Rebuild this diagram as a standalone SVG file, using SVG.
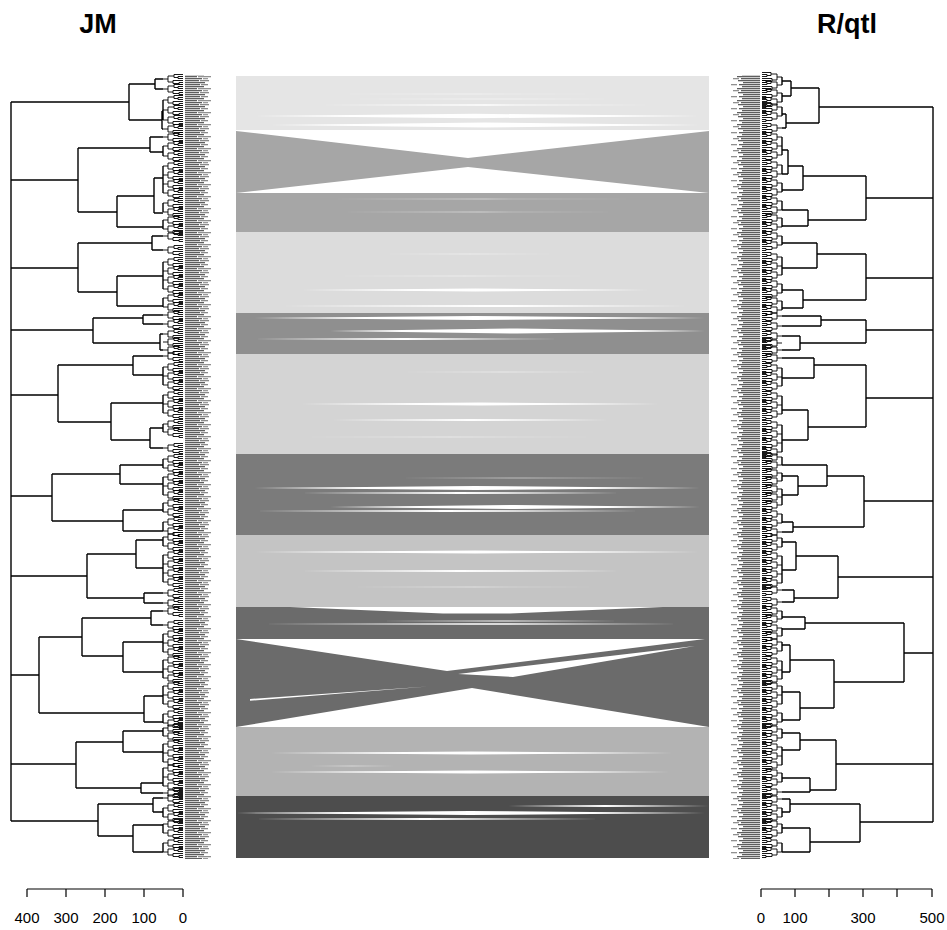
<svg xmlns="http://www.w3.org/2000/svg" width="947" height="930" viewBox="0 0 947 930">
  <style>
    .tree { fill: none; stroke: #000; stroke-width: 1.4; }
    .twig { fill: none; stroke: #000; stroke-width: 0.9; }
    .gap { fill: #fff; }
    .faint { fill: #fff; opacity: 0.5; }
    .axis { fill: none; stroke: #000; stroke-width: 1.2; }
    .tick { font-family: "Liberation Sans", Arial, sans-serif; font-size: 15px; text-anchor: middle; fill: #000; }
    .title { font-family: "Liberation Sans", Arial, sans-serif; font-size: 27px; font-weight: bold; text-anchor: middle; fill: #000; }
  </style>
  <defs>
    <!-- small leaf-level subtree, left tree (attaches at x=163, leaves end at x=183) -->
    <path id="bl" class="twig" d="M163,0H168 M168,-3V3 M168,-3H174 M168,3H173 M174,-4.5V-1.5 M174,-4.5H183 M174,-1.5H178 M178,-2.5V-0.5 M178,-2.5H183 M178,-0.5H183 M173,1.5V4.5 M173,1.5H183 M173,4.5H179 M179,3.5V5.5 M179,3.5H183 M179,5.5H183"/>
    <!-- same for the right tree (attaches at x=782, leaves end at x=762) -->
    <path id="br" class="twig" d="M782,0H777 M777,-3V3 M777,-3H771 M777,3H772 M771,-4.5V-1.5 M771,-4.5H762 M771,-1.5H767 M767,-2.5V-0.5 M767,-2.5H762 M767,-0.5H762 M772,1.5V4.5 M772,1.5H762 M772,4.5H766 M766,3.5V5.5 M766,3.5H762 M766,5.5H762"/>
    <!-- dense marker-name columns -->
    <pattern id="labL" patternUnits="userSpaceOnUse" x="185" y="0" width="28" height="12">
      <rect x="0" y="0" width="15" height="1.3" fill="#5e5e5e"/>
      <rect x="16" y="0" width="7" height="1.3" fill="#8a8a8a"/>
      <rect x="0" y="2" width="19" height="1.3" fill="#5e5e5e"/>
      <rect x="0" y="4" width="12" height="1.3" fill="#5e5e5e"/>
      <rect x="13" y="4" width="13" height="1.3" fill="#909090"/>
      <rect x="0" y="6" width="17" height="1.3" fill="#5e5e5e"/>
      <rect x="18" y="6" width="5" height="1.3" fill="#999"/>
      <rect x="0" y="8" width="14" height="1.3" fill="#5e5e5e"/>
      <rect x="15" y="8" width="9" height="1.3" fill="#8a8a8a"/>
      <rect x="0" y="10" width="20" height="1.3" fill="#5e5e5e"/>
    </pattern>
    <pattern id="labR" patternUnits="userSpaceOnUse" x="730" y="0" width="30" height="12">
      <rect x="9" y="0" width="21" height="1.3" fill="#5e5e5e"/>
      <rect x="1" y="0" width="6" height="1.3" fill="#909090"/>
      <rect x="12" y="2" width="18" height="1.3" fill="#5e5e5e"/>
      <rect x="7" y="4" width="23" height="1.3" fill="#5e5e5e"/>
      <rect x="11" y="6" width="19" height="1.3" fill="#5e5e5e"/>
      <rect x="3" y="6" width="6" height="1.3" fill="#909090"/>
      <rect x="8" y="8" width="22" height="1.3" fill="#5e5e5e"/>
      <rect x="13" y="10" width="17" height="1.3" fill="#5e5e5e"/>
    </pattern>
  </defs>

  <rect width="947" height="930" fill="#fff"/>

  <!-- titles -->
  <text class="title" x="98" y="33">JM</text>
  <text class="title" x="847" y="33">R/qtl</text>

  <!-- links between the two marker orders, one band per linkage group -->
  <g id="connectors">
    <g id="band-1">
      <rect x="236" y="76" width="473" height="54" fill="#e5e5e5"/>
      <polygon class="faint" points="330,94 472,93.5 615,94 472,94.5"/>
      <polygon class="faint" points="340,99 480,98.5 620,99 480,99.5"/>
      <polygon class="gap" points="318,105 486,104.3 655,105 486,105.7"/>
      <polygon class="gap" points="250,116 475,113.8 700,116 475,118.2"/>
      <polygon class="gap" points="270,125 485,122.5 700,125 485,127.5"/>
    </g>
    <g id="band-2">
      <rect x="236" y="131" width="473" height="101" fill="#a6a6a6"/>
      <polygon class="gap" points="236,131 709,131 468,158"/>
      <polygon class="gap" points="236,193 709,193 468,167"/>
      <polygon class="faint" points="330,199 485,198.6 640,199 485,199.4"/>
      <polygon class="faint" points="340,212 480,211.6 620,212 480,212.4"/>
    </g>
    <g id="band-3">
      <rect x="236" y="232" width="473" height="81" fill="#dcdcdc"/>
      <polygon class="faint" points="380,254 470,253.5 560,254 470,254.5"/>
      <polygon class="faint" points="330,276 465,275.5 600,276 465,276.5"/>
      <polygon class="gap" points="300,290 475,288.5 650,290 475,291.5"/>
      <polygon class="gap" points="280,306 485,305 690,306 485,307"/>
    </g>
    <g id="band-4">
      <rect x="236" y="313" width="473" height="41" fill="#8f8f8f"/>
      <polygon class="gap" points="245,318 475,316 705,318 475,320"/>
      <polygon class="gap" points="330,331 517,328.5 705,331 517,333.5"/>
      <polygon class="gap" points="250,339 405,338 560,339 405,340"/>
    </g>
    <g id="band-5">
      <rect x="236" y="354" width="473" height="100" fill="#d4d4d4"/>
      <polygon class="faint" points="400,372 500,371.5 600,372 500,372.5"/>
      <polygon class="gap" points="300,404 480,402.5 660,404 480,405.5"/>
      <polygon class="gap" points="330,420 470,419 610,420 470,421"/>
      <polygon class="faint" points="300,437 450,436.5 600,437 450,437.5"/>
    </g>
    <g id="band-6">
      <rect x="236" y="454" width="473" height="81" fill="#7b7b7b"/>
      <polygon class="faint" points="400,478 525,477.5 650,478 525,478.5"/>
      <polygon class="gap" points="250,488 475,486 700,488 475,490"/>
      <polygon class="gap" points="300,493 460,492 620,493 460,494"/>
      <polygon class="gap" points="330,507 515,505 700,507 515,509"/>
      <polygon class="gap" points="250,511 445,510 640,511 445,512"/>
    </g>
    <g id="band-7">
      <rect x="236" y="535" width="473" height="72" fill="#c4c4c4"/>
      <polygon class="gap" points="250,552 475,550.5 700,552 475,553.5"/>
      <polygon class="gap" points="300,571 460,570 620,571 460,572"/>
      <polygon class="faint" points="350,587 475,586.5 600,587 475,587.5"/>
    </g>
    <g id="band-8">
      <rect x="236" y="607" width="473" height="120" fill="#6b6b6b"/>
      <polygon class="gap" points="290,607 663,607 510,613.5 443,613.5"/>
      <polygon class="gap" points="380,621 500,620.5 620,621 500,621.5"/>
      <polygon class="gap" points="260,624 470,623.2 680,624 470,624.8"/>
      <polygon class="gap" points="236,639 705,639 447,671"/>
      <polygon class="gap" points="695,646 513,677 458,674"/>
      <polygon class="gap" points="236,727 709,727 472,688"/>
      <polygon class="gap" points="250,699 428,686.5 250,700.8"/>
    </g>
    <g id="band-9">
      <rect x="236" y="727" width="473" height="69" fill="#b3b3b3"/>
      <polygon class="gap" points="270,753 471,751.5 673,753 471,754.5"/>
      <polygon class="faint" points="310,766 352,765.5 395,766 352,766.5"/>
      <polygon class="gap" points="270,772 470,770.5 670,772 470,773.5"/>
    </g>
    <g id="band-10">
      <rect x="236" y="796" width="473" height="62" fill="#4d4d4d"/>
      <polygon class="gap" points="500,806 605,805 709,806 605,807"/>
      <polygon class="gap" points="236,813 470,811 705,813 470,815"/>
      <polygon class="gap" points="250,819 425,818 600,819 425,820"/>
    </g>
  </g>

  <!-- JM dendrogram -->
  <g id="jm-tree">
    <path class="tree" d="M11,102V821 M11,102H129 M11,180H78 M11,268H78 M11,330H93 M11,395H58 M11,496H52 M11,576H87 M11,675H39 M11,764H76 M11,821H98"/>
    <g id="jm-lg1">
      <path class="tree" d="M129,84V120 M129,84H155 M155,79V89 M155,79H163 M155,89H163 M129,120H162 M162,111V129 M162,111H163 M163,100V120 M162,129H163"/>
      <use href="#bl" y="79"/><use href="#bl" y="89"/><use href="#bl" y="100"/><use href="#bl" y="110"/><use href="#bl" y="120"/><use href="#bl" y="129"/>
    </g>
    <g id="jm-lg2">
      <path class="tree" d="M78,148V212 M78,148H150 M150,137V152 M150,137H163 M150,152H163 M163,146V156 M78,212H117 M117,196V227 M117,196H154 M154,178V213 M154,178H163 M163,166V193 M154,213H163 M163,203V212 M117,227H163 M163,220V229"/>
      <use href="#bl" y="137"/><use href="#bl" y="146"/><use href="#bl" y="156"/><use href="#bl" y="166"/><use href="#bl" y="175"/><use href="#bl" y="184"/><use href="#bl" y="193"/><use href="#bl" y="203"/><use href="#bl" y="212"/><use href="#bl" y="220"/><use href="#bl" y="229"/>
    </g>
    <g id="jm-lg3">
      <path class="tree" d="M78,243V292 M78,243H152 M152,236V250 M152,236H163 M152,250H163 M78,292H117 M117,276V306 M117,276H163 M163,262V289 M117,306H163 M163,298V307"/>
      <use href="#bl" y="236"/><use href="#bl" y="250"/><use href="#bl" y="262"/><use href="#bl" y="271"/><use href="#bl" y="280"/><use href="#bl" y="289"/><use href="#bl" y="298"/><use href="#bl" y="307"/>
    </g>
    <g id="jm-lg4">
      <path class="tree" d="M93,318V343 M93,318H143 M143,315V324 M143,315H163 M143,324H163 M93,343H160 M160,334V350 M160,334H163 M160,350H163"/>
      <use href="#bl" y="315"/><use href="#bl" y="324"/><use href="#bl" y="334"/><use href="#bl" y="342"/><use href="#bl" y="350"/>
    </g>
    <g id="jm-lg5">
      <path class="tree" d="M58,365V422 M58,365H133 M133,356V375 M133,356H163 M133,375H163 M163,367V385 M58,422H111 M111,403V440 M111,403H163 M163,395V413 M111,440H150 M150,428V448 M150,428H163 M163,424V432 M150,448H163"/>
      <use href="#bl" y="356"/><use href="#bl" y="367"/><use href="#bl" y="376"/><use href="#bl" y="385"/><use href="#bl" y="395"/><use href="#bl" y="404"/><use href="#bl" y="413"/><use href="#bl" y="424"/><use href="#bl" y="432"/><use href="#bl" y="448"/>
    </g>
    <g id="jm-lg6">
      <path class="tree" d="M52,474V521 M52,474H120 M120,465V484 M120,465H163 M163,459V468 M120,484H163 M163,477V495 M52,521H123 M123,510V531 M123,510H163 M163,503V512 M123,531H163 M163,522V531"/>
      <use href="#bl" y="459"/><use href="#bl" y="468"/><use href="#bl" y="477"/><use href="#bl" y="486"/><use href="#bl" y="495"/><use href="#bl" y="503"/><use href="#bl" y="512"/><use href="#bl" y="522"/><use href="#bl" y="531"/>
    </g>
    <g id="jm-lg7">
      <path class="tree" d="M87,554V598 M87,554H136 M136,540V568 M136,540H163 M163,537V546 M136,568H163 M163,555V582 M87,598H144 M144,593V603 M144,593H163 M144,603H163"/>
      <use href="#bl" y="537"/><use href="#bl" y="546"/><use href="#bl" y="555"/><use href="#bl" y="564"/><use href="#bl" y="573"/><use href="#bl" y="582"/><use href="#bl" y="593"/><use href="#bl" y="603"/>
    </g>
    <g id="jm-lg8">
      <path class="tree" d="M39,637V713 M39,637H82 M82,618V656 M82,618H151 M151,611V625 M151,611H163 M151,625H163 M82,656H123 M123,642V672 M123,642H163 M163,634V652 M123,672H163 M163,660V678 M39,713H144 M144,696V722 M144,696H163 M163,686V704 M144,722H163 M163,714V723"/>
      <use href="#bl" y="611"/><use href="#bl" y="625"/><use href="#bl" y="634"/><use href="#bl" y="643"/><use href="#bl" y="652"/><use href="#bl" y="660"/><use href="#bl" y="669"/><use href="#bl" y="678"/><use href="#bl" y="686"/><use href="#bl" y="695"/><use href="#bl" y="704"/><use href="#bl" y="714"/><use href="#bl" y="723"/>
    </g>
    <g id="jm-lg9">
      <path class="tree" d="M76,742V788 M76,742H123 M123,731V752 M123,731H163 M163,728V736 M123,752H163 M163,744V762 M76,788H141 M141,783V793 M141,783H163 M163,768V786 M141,793H163"/>
      <use href="#bl" y="728"/><use href="#bl" y="736"/><use href="#bl" y="744"/><use href="#bl" y="753"/><use href="#bl" y="762"/><use href="#bl" y="768"/><use href="#bl" y="777"/><use href="#bl" y="786"/><use href="#bl" y="793"/>
    </g>
    <g id="jm-lg10">
      <path class="tree" d="M98,804V836 M98,804H153 M153,798V812 M153,798H163 M153,812H163 M163,808V817 M98,836H133 M133,825V852 M133,825H163 M163,824V833 M133,852H163 M163,843V852"/>
      <use href="#bl" y="798"/><use href="#bl" y="808"/><use href="#bl" y="817"/><use href="#bl" y="824"/><use href="#bl" y="833"/><use href="#bl" y="843"/><use href="#bl" y="852"/>
    </g>
    <rect id="jm-markers" x="185" y="75" width="28" height="784" fill="url(#labL)"/>
  </g>

  <!-- R/qtl dendrogram -->
  <g id="rqtl-tree">
    <path class="tree" d="M933,107V822 M933,107H819 M933,198H866 M933,278H866 M933,330H866 M933,398H866 M933,501H864 M933,577H838 M933,653H904 M933,764H836 M933,822H860"/>
    <g id="rqtl-lg1">
      <path class="tree" d="M819,88V123 M819,88H791 M791,81V96 M791,81H782 M782,77V85 M791,96H782 M782,93V102 M819,123H786 M786,114V128 M786,114H782 M782,107V116 M786,128H782"/>
      <use href="#br" y="77"/><use href="#br" y="85"/><use href="#br" y="93"/><use href="#br" y="102"/><use href="#br" y="107"/><use href="#br" y="116"/><use href="#br" y="128"/>
    </g>
    <g id="rqtl-lg2">
      <path class="tree" d="M866,176V220 M866,176H803 M803,166V190 M803,166H788 M788,150V174 M788,150H782 M782,137V155 M788,174H782 M782,165V174 M803,190H782 M782,183V192 M866,220H808 M808,210V226 M808,210H782 M782,201V210 M808,226H782 M782,218V227"/>
      <use href="#br" y="137"/><use href="#br" y="146"/><use href="#br" y="155"/><use href="#br" y="165"/><use href="#br" y="174"/><use href="#br" y="183"/><use href="#br" y="192"/><use href="#br" y="201"/><use href="#br" y="210"/><use href="#br" y="218"/><use href="#br" y="227"/>
    </g>
    <g id="rqtl-lg3">
      <path class="tree" d="M866,254V300 M866,254H817 M817,243V268 M817,243H782 M782,236V245 M817,268H782 M782,257V275 M866,300H803 M803,290V308 M803,290H782 M782,284V293 M803,308H782 M782,301V310"/>
      <use href="#br" y="236"/><use href="#br" y="245"/><use href="#br" y="257"/><use href="#br" y="266"/><use href="#br" y="275"/><use href="#br" y="284"/><use href="#br" y="293"/><use href="#br" y="301"/><use href="#br" y="310"/>
    </g>
    <g id="rqtl-lg4">
      <path class="tree" d="M866,320V343 M866,320H821 M821,316V326 M821,316H782 M821,326H782 M866,343H800 M800,336V350 M800,336H782 M800,350H782"/>
      <use href="#br" y="316"/><use href="#br" y="326"/><use href="#br" y="336"/><use href="#br" y="343"/><use href="#br" y="350"/>
    </g>
    <g id="rqtl-lg5">
      <path class="tree" d="M866,365V427 M866,365H814 M814,358V378 M814,358H782 M814,378H782 M782,368V386 M866,427H808 M808,410V440 M808,410H782 M782,396V414 M808,440H782 M782,425V452"/>
      <use href="#br" y="358"/><use href="#br" y="368"/><use href="#br" y="377"/><use href="#br" y="386"/><use href="#br" y="396"/><use href="#br" y="405"/><use href="#br" y="414"/><use href="#br" y="425"/><use href="#br" y="434"/><use href="#br" y="443"/><use href="#br" y="452"/>
    </g>
    <g id="rqtl-lg6">
      <path class="tree" d="M864,476V527 M864,476H827 M827,465V486 M827,465H782 M782,457V465 M827,486H798 M798,476V495 M798,476H782 M782,473V481 M798,495H782 M782,489V505 M864,527H793 M793,522V532 M793,522H782 M782,514V523 M793,532H782"/>
      <use href="#br" y="457"/><use href="#br" y="465"/><use href="#br" y="473"/><use href="#br" y="481"/><use href="#br" y="489"/><use href="#br" y="497"/><use href="#br" y="505"/><use href="#br" y="514"/><use href="#br" y="523"/><use href="#br" y="532"/>
    </g>
    <g id="rqtl-lg7">
      <path class="tree" d="M838,556V598 M838,556H796 M796,542V570 M796,542H782 M782,538V547 M796,570H782 M782,556V583 M838,598H794 M794,590V602 M794,590H782 M794,602H782"/>
      <use href="#br" y="538"/><use href="#br" y="547"/><use href="#br" y="556"/><use href="#br" y="565"/><use href="#br" y="574"/><use href="#br" y="583"/><use href="#br" y="590"/><use href="#br" y="602"/>
    </g>
    <g id="rqtl-lg8">
      <path class="tree" d="M904,623V682 M904,623H805 M805,617V629 M805,617H782 M782,611V619 M805,629H782 M782,628V636 M904,682H834 M834,660V708 M834,660H790 M790,645V672 M790,645H782 M782,642V651 M790,672H782 M782,661V679 M834,708H800 M800,692V720 M800,692H782 M782,686V704 M800,720H782 M782,713V722"/>
      <use href="#br" y="611"/><use href="#br" y="619"/><use href="#br" y="628"/><use href="#br" y="636"/><use href="#br" y="642"/><use href="#br" y="651"/><use href="#br" y="661"/><use href="#br" y="670"/><use href="#br" y="679"/><use href="#br" y="686"/><use href="#br" y="695"/><use href="#br" y="704"/><use href="#br" y="713"/><use href="#br" y="722"/>
    </g>
    <g id="rqtl-lg9">
      <path class="tree" d="M836,740V790 M836,740H800 M800,733V750 M800,733H782 M782,729V738 M800,750H782 M782,747V765 M836,790H810 M810,778V792 M810,778H782 M782,773V782 M810,792H782"/>
      <use href="#br" y="729"/><use href="#br" y="738"/><use href="#br" y="747"/><use href="#br" y="756"/><use href="#br" y="765"/><use href="#br" y="773"/><use href="#br" y="782"/><use href="#br" y="792"/>
    </g>
    <g id="rqtl-lg10">
      <path class="tree" d="M860,804V842 M860,804H790 M790,799V812 M790,799H782 M790,812H782 M782,808V817 M860,842H810 M810,828V852 M810,828H782 M782,824V833 M810,852H782 M782,843V852"/>
      <use href="#br" y="799"/><use href="#br" y="808"/><use href="#br" y="817"/><use href="#br" y="824"/><use href="#br" y="833"/><use href="#br" y="843"/><use href="#br" y="852"/>
    </g>
    <rect id="rqtl-markers" x="730" y="75" width="30" height="784" fill="url(#labR)"/>
  </g>

  <!-- height scales -->
  <g id="jm-scale">
    <path class="axis" d="M27,889H183 M27,889V897 M66,889V897 M105,889V897 M144,889V897 M183,889V897"/>
    <text class="tick" x="27" y="923">400</text>
    <text class="tick" x="66" y="923">300</text>
    <text class="tick" x="105" y="923">200</text>
    <text class="tick" x="144" y="923">100</text>
    <text class="tick" x="183" y="923">0</text>
  </g>
  <g id="rqtl-scale">
    <path class="axis" d="M761,889H932 M761,889V897 M795,889V897 M829,889V897 M863,889V897 M897,889V897 M932,889V897"/>
    <text class="tick" x="761" y="923">0</text>
    <text class="tick" x="795" y="923">100</text>
    <text class="tick" x="863" y="923">300</text>
    <text class="tick" x="932" y="923">500</text>
  </g>
</svg>
